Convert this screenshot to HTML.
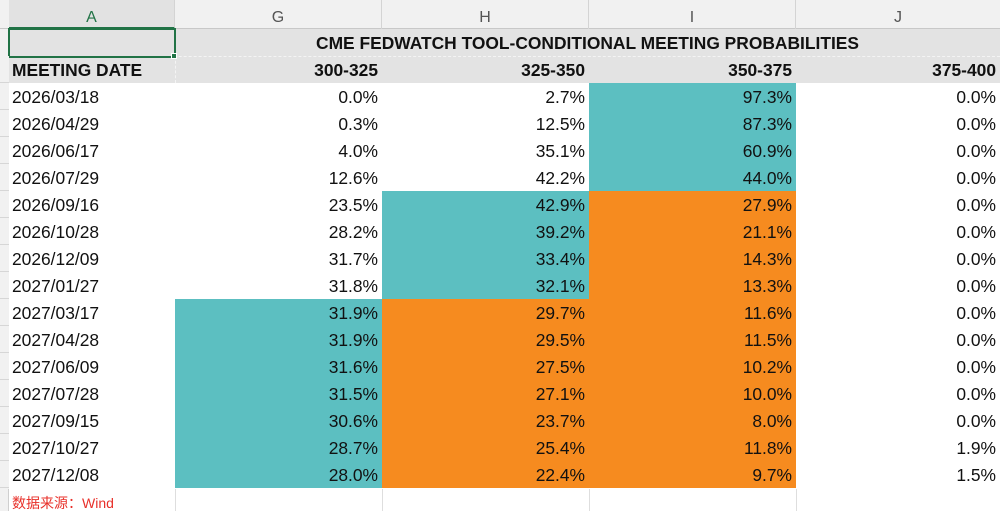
<!DOCTYPE html>
<html><head><meta charset="utf-8">
<style>
html,body{margin:0;padding:0;}
body{width:1000px;height:511px;overflow:hidden;background:#fff;position:relative;font-family:"Liberation Sans","Noto Sans CJK SC",sans-serif;}
.a{position:absolute;box-sizing:border-box;}
.c{position:absolute;box-sizing:border-box;height:27px;font-size:17.4px;line-height:28px;color:#111;white-space:nowrap;}
.r{text-align:right;padding-right:4px;}
.t{background:#5cbfc1;}
.o{background:#f68b1f;}
.ch{position:absolute;top:0;height:29px;font-size:16px;line-height:35px;color:#555;text-align:center;box-sizing:border-box;border-right:1px solid #d4d4d4;}
</style></head><body>
<!-- column header row -->
<div class="a" style="left:0;top:0;width:1000px;height:29px;background:#f1f1f1;border-bottom:1px solid #c8c8c8;"></div>
<div class="ch" style="left:9px;width:166px;background:#e2e2e2;color:#217346;border-bottom:2px solid #217346;">A</div>
<div class="ch" style="left:175px;width:207px;">G</div>
<div class="ch" style="left:382px;width:207px;">H</div>
<div class="ch" style="left:589px;width:207px;">I</div>
<div class="ch" style="left:796px;width:204px;border-right:none;">J</div>
<!-- row header strip -->
<div class="a" style="left:0;top:29px;width:9px;height:482px;background:#f1f1f1;border-right:1px solid #cfcfcf;"></div>
<!-- title / header rows gray -->
<div class="a" style="left:9px;top:29px;width:991px;height:54px;background:#e3e3e3;"></div>
<div class="a" style="left:9px;top:56px;width:991px;height:0;border-top:1px dashed #f4f4f4;"></div>
<div class="a" style="left:175px;top:56px;width:0;height:27px;border-left:1px dashed #f4f4f4;"></div>
<div class="c" style="left:175px;top:29px;width:825px;text-align:center;font-weight:bold;line-height:28px;">CME FEDWATCH TOOL-CONDITIONAL MEETING PROBABILITIES</div>
<!-- selection box -->
<div class="a" style="left:8px;top:28px;width:168px;height:30px;border:2px solid #217346;"></div>
<div class="a" style="left:171px;top:53px;width:6px;height:6px;background:#217346;border:1px solid #fff;"></div>
<!-- header row -->
<div class="c" style="left:9px;top:56px;width:166px;padding-left:3px;font-weight:bold;">MEETING DATE</div>
<div class="c r" style="left:175px;top:56px;width:207px;font-weight:bold;">300-325</div>
<div class="c r" style="left:382px;top:56px;width:207px;font-weight:bold;">325-350</div>
<div class="c r" style="left:589px;top:56px;width:207px;font-weight:bold;">350-375</div>
<div class="c r" style="left:796px;top:56px;width:204px;font-weight:bold;">375-400</div>
<!-- row header lines -->
<div class="a" style="left:0;top:56px;width:9px;height:433px;background:repeating-linear-gradient(to bottom,#f1f1f1 0,#f1f1f1 26px,#d6d6d6 26px,#d6d6d6 27px);"></div>
<!-- bottom row faint gridlines -->
<div class="a" style="left:175px;top:489px;width:0;height:22px;border-left:1px solid #dedede;"></div>
<div class="a" style="left:382px;top:489px;width:0;height:22px;border-left:1px solid #dedede;"></div>
<div class="a" style="left:589px;top:489px;width:0;height:22px;border-left:1px solid #dedede;"></div>
<div class="a" style="left:796px;top:489px;width:0;height:22px;border-left:1px solid #dedede;"></div>
<div class="a" style="left:12px;top:492px;font-size:14px;line-height:22px;color:#e8302a;white-space:nowrap;">数据来源：Wind</div>

<!-- data rows -->
<div class="c" style="left:9px;top:83px;width:166px;padding-left:3px;">2026/03/18</div>
<div class="c r" style="left:175px;top:83px;width:207px;">0.0%</div>
<div class="c r" style="left:382px;top:83px;width:207px;">2.7%</div>
<div class="c r t" style="left:589px;top:83px;width:207px;">97.3%</div>
<div class="c r" style="left:796px;top:83px;width:204px;">0.0%</div>

<div class="c" style="left:9px;top:110px;width:166px;padding-left:3px;">2026/04/29</div>
<div class="c r" style="left:175px;top:110px;width:207px;">0.3%</div>
<div class="c r" style="left:382px;top:110px;width:207px;">12.5%</div>
<div class="c r t" style="left:589px;top:110px;width:207px;">87.3%</div>
<div class="c r" style="left:796px;top:110px;width:204px;">0.0%</div>

<div class="c" style="left:9px;top:137px;width:166px;padding-left:3px;">2026/06/17</div>
<div class="c r" style="left:175px;top:137px;width:207px;">4.0%</div>
<div class="c r" style="left:382px;top:137px;width:207px;">35.1%</div>
<div class="c r t" style="left:589px;top:137px;width:207px;">60.9%</div>
<div class="c r" style="left:796px;top:137px;width:204px;">0.0%</div>

<div class="c" style="left:9px;top:164px;width:166px;padding-left:3px;">2026/07/29</div>
<div class="c r" style="left:175px;top:164px;width:207px;">12.6%</div>
<div class="c r" style="left:382px;top:164px;width:207px;">42.2%</div>
<div class="c r t" style="left:589px;top:164px;width:207px;">44.0%</div>
<div class="c r" style="left:796px;top:164px;width:204px;">0.0%</div>

<div class="c" style="left:9px;top:191px;width:166px;padding-left:3px;">2026/09/16</div>
<div class="c r" style="left:175px;top:191px;width:207px;">23.5%</div>
<div class="c r t" style="left:382px;top:191px;width:207px;">42.9%</div>
<div class="c r o" style="left:589px;top:191px;width:207px;">27.9%</div>
<div class="c r" style="left:796px;top:191px;width:204px;">0.0%</div>

<div class="c" style="left:9px;top:218px;width:166px;padding-left:3px;">2026/10/28</div>
<div class="c r" style="left:175px;top:218px;width:207px;">28.2%</div>
<div class="c r t" style="left:382px;top:218px;width:207px;">39.2%</div>
<div class="c r o" style="left:589px;top:218px;width:207px;">21.1%</div>
<div class="c r" style="left:796px;top:218px;width:204px;">0.0%</div>

<div class="c" style="left:9px;top:245px;width:166px;padding-left:3px;">2026/12/09</div>
<div class="c r" style="left:175px;top:245px;width:207px;">31.7%</div>
<div class="c r t" style="left:382px;top:245px;width:207px;">33.4%</div>
<div class="c r o" style="left:589px;top:245px;width:207px;">14.3%</div>
<div class="c r" style="left:796px;top:245px;width:204px;">0.0%</div>

<div class="c" style="left:9px;top:272px;width:166px;padding-left:3px;">2027/01/27</div>
<div class="c r" style="left:175px;top:272px;width:207px;">31.8%</div>
<div class="c r t" style="left:382px;top:272px;width:207px;">32.1%</div>
<div class="c r o" style="left:589px;top:272px;width:207px;">13.3%</div>
<div class="c r" style="left:796px;top:272px;width:204px;">0.0%</div>

<div class="c" style="left:9px;top:299px;width:166px;padding-left:3px;">2027/03/17</div>
<div class="c r t" style="left:175px;top:299px;width:207px;">31.9%</div>
<div class="c r o" style="left:382px;top:299px;width:207px;">29.7%</div>
<div class="c r o" style="left:589px;top:299px;width:207px;">11.6%</div>
<div class="c r" style="left:796px;top:299px;width:204px;">0.0%</div>

<div class="c" style="left:9px;top:326px;width:166px;padding-left:3px;">2027/04/28</div>
<div class="c r t" style="left:175px;top:326px;width:207px;">31.9%</div>
<div class="c r o" style="left:382px;top:326px;width:207px;">29.5%</div>
<div class="c r o" style="left:589px;top:326px;width:207px;">11.5%</div>
<div class="c r" style="left:796px;top:326px;width:204px;">0.0%</div>

<div class="c" style="left:9px;top:353px;width:166px;padding-left:3px;">2027/06/09</div>
<div class="c r t" style="left:175px;top:353px;width:207px;">31.6%</div>
<div class="c r o" style="left:382px;top:353px;width:207px;">27.5%</div>
<div class="c r o" style="left:589px;top:353px;width:207px;">10.2%</div>
<div class="c r" style="left:796px;top:353px;width:204px;">0.0%</div>

<div class="c" style="left:9px;top:380px;width:166px;padding-left:3px;">2027/07/28</div>
<div class="c r t" style="left:175px;top:380px;width:207px;">31.5%</div>
<div class="c r o" style="left:382px;top:380px;width:207px;">27.1%</div>
<div class="c r o" style="left:589px;top:380px;width:207px;">10.0%</div>
<div class="c r" style="left:796px;top:380px;width:204px;">0.0%</div>

<div class="c" style="left:9px;top:407px;width:166px;padding-left:3px;">2027/09/15</div>
<div class="c r t" style="left:175px;top:407px;width:207px;">30.6%</div>
<div class="c r o" style="left:382px;top:407px;width:207px;">23.7%</div>
<div class="c r o" style="left:589px;top:407px;width:207px;">8.0%</div>
<div class="c r" style="left:796px;top:407px;width:204px;">0.0%</div>

<div class="c" style="left:9px;top:434px;width:166px;padding-left:3px;">2027/10/27</div>
<div class="c r t" style="left:175px;top:434px;width:207px;">28.7%</div>
<div class="c r o" style="left:382px;top:434px;width:207px;">25.4%</div>
<div class="c r o" style="left:589px;top:434px;width:207px;">11.8%</div>
<div class="c r" style="left:796px;top:434px;width:204px;">1.9%</div>

<div class="c" style="left:9px;top:461px;width:166px;padding-left:3px;">2027/12/08</div>
<div class="c r t" style="left:175px;top:461px;width:207px;">28.0%</div>
<div class="c r o" style="left:382px;top:461px;width:207px;">22.4%</div>
<div class="c r o" style="left:589px;top:461px;width:207px;">9.7%</div>
<div class="c r" style="left:796px;top:461px;width:204px;">1.5%</div>
</body></html>
